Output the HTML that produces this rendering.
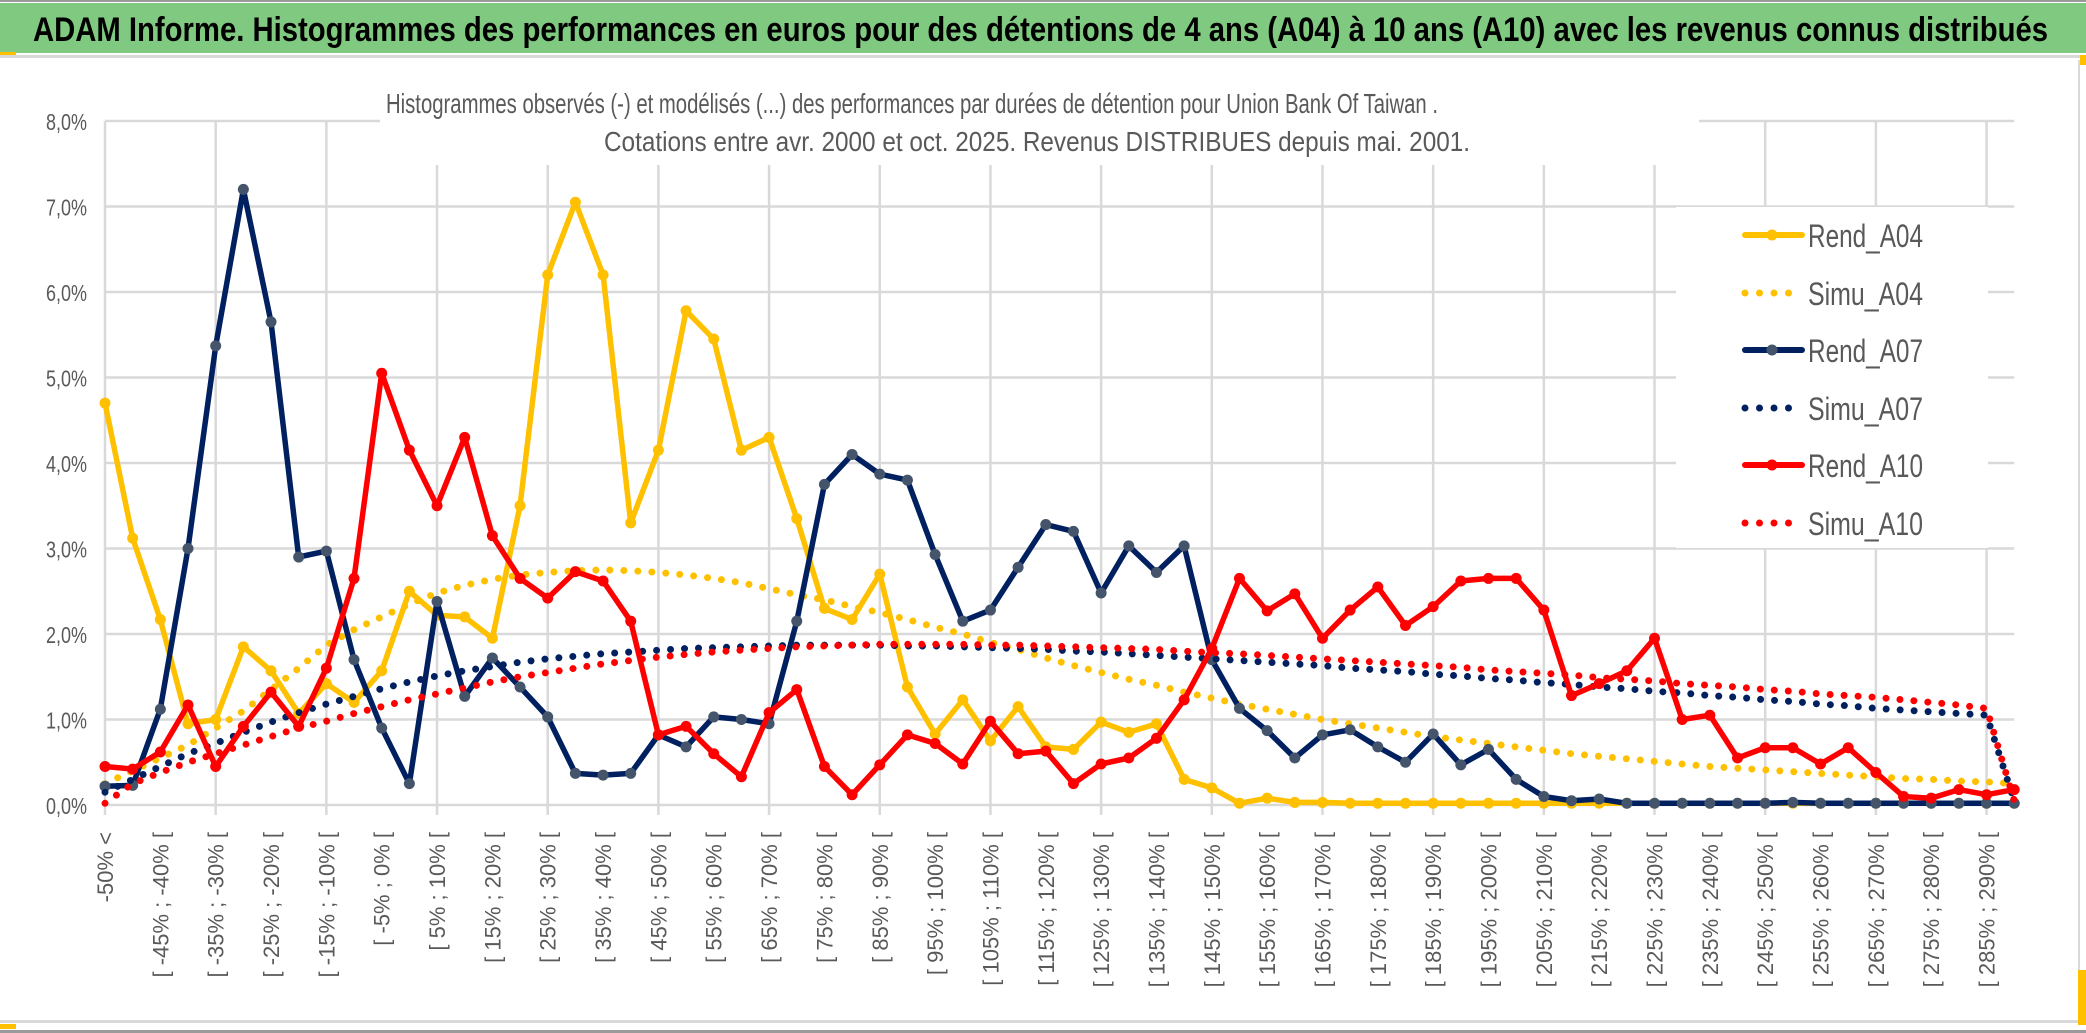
<!DOCTYPE html>
<html><head><meta charset="utf-8">
<style>
html,body{margin:0;padding:0;background:#fff;}
svg{display:block;}
</style></head>
<body>
<svg id="chart" width="2086" height="1033" viewBox="0 0 2086 1033" xmlns="http://www.w3.org/2000/svg">
  <rect x="0" y="0" width="2086" height="1033" fill="#fff"/>
  <rect x="0" y="0" width="2086" height="2" fill="#9a9a9a"/>
  <rect x="0" y="3" width="2086" height="50" fill="#80C980"/>
  <rect x="0" y="52" width="16" height="4" fill="#FFC000"/>
  <rect x="0" y="55" width="2086" height="3" fill="#d9d9d9"/>
  <text x="33" y="41" font-family="'Liberation Sans Narrow','Liberation Sans',sans-serif" font-weight="bold" font-size="34" fill="#000" textLength="2015" lengthAdjust="spacingAndGlyphs">ADAM Informe. Histogrammes des performances en euros pour des détentions de 4 ans (A04) à 10 ans (A10) avec les revenus connus distribués</text>
  <rect x="0" y="1020" width="2086" height="3" fill="#d9d9d9"/>
  <rect x="0" y="1030" width="2086" height="3" fill="#9a9a9a"/>
  <rect x="0" y="1024" width="16" height="5" fill="#FFC000"/>
  <rect x="2078" y="60" width="2" height="960" fill="#d9d9d9"/>
  <rect x="2078" y="970" width="8" height="55" fill="#FFC000"/>
  <rect x="2080" y="55" width="6" height="10" fill="#FFC000"/>
  <g id="grid"></g>
  <g id="yaxis"></g>
  <g id="xaxis"></g>
  <rect x="380" y="66" width="1319" height="99" fill="#fff"/>
  <text x="912" y="113" text-anchor="middle" font-family="'Liberation Sans Narrow','Liberation Sans',sans-serif" font-size="28" fill="#595959" textLength="1052" lengthAdjust="spacingAndGlyphs">Histogrammes observés (-) et modélisés (...) des performances par durées de détention pour Union Bank Of Taiwan .</text>
  <text x="1037" y="151" text-anchor="middle" font-family="'Liberation Sans Narrow','Liberation Sans',sans-serif" font-size="28" fill="#595959" textLength="866" lengthAdjust="spacingAndGlyphs">Cotations entre avr. 2000 et oct. 2025. Revenus DISTRIBUES depuis mai. 2001.</text>
  <g id="series"></g>
  <rect x="1676" y="207" width="312" height="341" fill="#fff"/>
  <g id="legend"></g>
</svg>
<script>
const NS = "http://www.w3.org/2000/svg";
const categoriesStart = -50;
const categoryStep = 5;
const categoryCount = 70;
const yTicks = [0,1,2,3,4,5,6,7,8];
const yTickLabels = ["0,0%","1,0%","2,0%","3,0%","4,0%","5,0%","6,0%","7,0%","8,0%"];
const rendA04 = [4.7,3.12,2.17,0.95,1.0,1.85,1.57,1.07,1.42,1.2,1.57,2.5,2.22,2.2,1.95,3.5,6.2,7.05,6.2,3.3,4.15,5.78,5.45,4.15,4.3,3.35,2.3,2.17,2.7,1.38,0.83,1.23,0.75,1.15,0.68,0.65,0.97,0.85,0.95,0.3,0.2,0.02,0.08,0.03,0.03,0.02,0.02,0.02,0.02,0.02,0.02,0.02,0.02,0.02,0.02,0.02,0.02,0.02,0.02,0.02,0.02,0.02,0.02,0.02,0.02,0.02,0.02,0.02,0.02,0.02];
const simuA04 = [0.25,0.4,0.55,0.7,0.9,1.1,1.35,1.6,1.87,2.05,2.2,2.35,2.48,2.57,2.64,2.69,2.72,2.74,2.75,2.74,2.72,2.69,2.65,2.6,2.53,2.46,2.4,2.32,2.25,2.17,2.08,2.0,1.9,1.82,1.72,1.63,1.55,1.47,1.4,1.32,1.25,1.18,1.12,1.06,1.0,0.95,0.9,0.85,0.8,0.76,0.72,0.68,0.64,0.6,0.57,0.54,0.51,0.48,0.45,0.43,0.41,0.39,0.37,0.35,0.33,0.31,0.3,0.28,0.27,0.25];
const rendA07 = [0.22,0.23,1.12,3.0,5.37,7.2,5.65,2.9,2.97,1.7,0.9,0.25,2.38,1.27,1.72,1.38,1.03,0.37,0.35,0.37,0.82,0.68,1.03,1.0,0.95,2.15,3.75,4.1,3.87,3.8,2.93,2.15,2.28,2.78,3.28,3.2,2.48,3.03,2.72,3.03,1.7,1.13,0.87,0.55,0.82,0.88,0.68,0.5,0.83,0.47,0.65,0.3,0.1,0.05,0.07,0.02,0.02,0.02,0.02,0.02,0.02,0.03,0.02,0.02,0.02,0.02,0.02,0.02,0.02,0.02];
const simuA07 = [0.15,0.3,0.45,0.6,0.72,0.85,0.97,1.08,1.18,1.27,1.36,1.44,1.51,1.57,1.62,1.67,1.71,1.74,1.77,1.79,1.81,1.83,1.84,1.85,1.86,1.87,1.87,1.87,1.87,1.86,1.86,1.85,1.84,1.83,1.82,1.8,1.79,1.77,1.75,1.73,1.71,1.69,1.67,1.65,1.63,1.6,1.58,1.56,1.53,1.51,1.48,1.46,1.43,1.41,1.38,1.36,1.33,1.31,1.28,1.26,1.23,1.21,1.18,1.16,1.13,1.11,1.09,1.07,1.05,0.05];
const rendA10 = [0.45,0.42,0.62,1.17,0.45,0.92,1.32,0.92,1.6,2.65,5.05,4.15,3.5,4.3,3.15,2.65,2.42,2.73,2.62,2.15,0.82,0.92,0.6,0.33,1.08,1.35,0.45,0.12,0.47,0.82,0.72,0.48,0.98,0.6,0.63,0.25,0.48,0.55,0.78,1.23,1.83,2.65,2.27,2.47,1.95,2.28,2.55,2.1,2.32,2.62,2.65,2.65,2.28,1.28,1.42,1.57,1.95,1.0,1.05,0.55,0.67,0.67,0.48,0.67,0.38,0.1,0.08,0.18,0.12,0.18];
const simuA10 = [0.02,0.25,0.38,0.5,0.6,0.7,0.8,0.9,0.98,1.07,1.15,1.23,1.3,1.37,1.44,1.5,1.55,1.6,1.65,1.69,1.73,1.76,1.79,1.81,1.83,1.85,1.86,1.87,1.88,1.88,1.88,1.88,1.87,1.87,1.86,1.85,1.84,1.83,1.82,1.8,1.78,1.77,1.75,1.73,1.71,1.69,1.67,1.65,1.63,1.61,1.58,1.56,1.54,1.52,1.49,1.47,1.45,1.42,1.4,1.38,1.35,1.33,1.3,1.28,1.26,1.23,1.2,1.17,1.13,0.05];

const X0 = 105, XSTEP = 27.67, Y0 = 805, YPER = 85.5;
function xPos(i){ return X0 + i*XSTEP; }
function yPos(v){ return Y0 - v*YPER; }
function mk(tag, attrs, parent){
  const e = document.createElementNS(NS, tag);
  for (const k in attrs) e.setAttribute(k, attrs[k]);
  parent.appendChild(e);
  return e;
}
function catLabel(i){
  if (i === 0) return "-50% <";
  const lo = categoriesStart + (i-1)*categoryStep;
  return "[ " + lo + "% ; " + (lo+categoryStep) + "% [";
}
const grid = document.getElementById('grid');
const xRight = xPos(categoryCount-1);
yTicks.forEach((t) => {
  const l = mk('line', {x1:X0, x2:xRight, y1:yPos(t), y2:yPos(t), stroke:'#d9d9d9', 'stroke-width':2.5}, grid);
  
  
});
for (let i = 0; i < categoryCount; i += 4) {
  const l = mk('line', {x1:xPos(i), x2:xPos(i), y1:yPos(8), y2:Y0+10, stroke:'#d9d9d9', 'stroke-width':2.5}, grid);
  
  
}
const yaxis = document.getElementById('yaxis');
yTicks.forEach((t, k) => {
  const tx = mk('text', {x:87, y:yPos(t)+9, 'text-anchor':'end', 'font-family':"'Liberation Sans Narrow','Liberation Sans',sans-serif", 'font-size':23, fill:'#595959', textLength:41, lengthAdjust:'spacingAndGlyphs'}, yaxis);
  tx.textContent = yTickLabels[k];
  
  
});
const xaxis = document.getElementById('xaxis');
for (let i = 0; i < categoryCount; i += 2) {
  const x = xPos(i) + 8;
  const tx = mk('text', {x:x, y:832, transform:'rotate(-90 '+x+' 832)', 'text-anchor':'end', 'font-family':"'Liberation Sans',sans-serif", 'font-size':22, fill:'#595959'}, xaxis);
  tx.textContent = catLabel(i);
  
  
}
const series = document.getElementById('series');
function pts(arr){ return arr.map((v,i)=>xPos(i).toFixed(1)+','+yPos(v).toFixed(1)).join(' '); }
function solid(arr, color, mcolor, name){
  const g = mk('g', {}, series);
  
  
  const p = mk('polyline', {points:pts(arr), fill:'none', stroke:color, 'stroke-width':5.5, 'stroke-linejoin':'round'}, g);
  
  
  arr.forEach((v,i)=>{
    const c = mk('circle', {cx:xPos(i), cy:yPos(v), r:5.5, fill:mcolor}, g);
    
    
  });
}
function dotted(arr, color, name){
  const p = mk('polyline', {points:pts(arr), fill:'none', stroke:color, 'stroke-width':7, 'stroke-linecap':'round', 'stroke-dasharray':'0 14'}, series);
  
  
}
solid(rendA04, '#FFC000', '#FFC000', 'rend-a04');
dotted(simuA04, '#FFC000', 'simu-a04');
solid(rendA07, '#002060', '#44546A', 'rend-a07');
dotted(simuA07, '#002060', 'simu-a07');
solid(rendA10, '#FF0000', '#FF0000', 'rend-a10');
dotted(simuA10, '#FF0000', 'simu-a10');

const legend = document.getElementById('legend');
const legendItems = [
  ['Rend_A04','#FFC000','#FFC000',false],
  ['Simu_A04','#FFC000',null,true],
  ['Rend_A07','#002060','#44546A',false],
  ['Simu_A07','#002060',null,true],
  ['Rend_A10','#FF0000','#FF0000',false],
  ['Simu_A10','#FF0000',null,true]
];
const legendYs = [235,293,350,408,465,523];
legendItems.forEach((it, k) => {
  const y = legendYs[k];
  const g = mk('g', {}, legend);
  
  
  if (it[3]) {
    mk('line', {x1:1745, x2:1800, y1:y, y2:y, stroke:it[1], 'stroke-width':7, 'stroke-linecap':'round', 'stroke-dasharray':'0 14.5'}, g);
  } else {
    mk('line', {x1:1745, x2:1802, y1:y, y2:y, stroke:it[1], 'stroke-width':6, 'stroke-linecap':'round'}, g);
    mk('circle', {cx:1772, cy:y, r:5.5, fill:it[2]}, g);
  }
  const t = mk('text', {x:1808, y:y+12, 'font-family':"'Liberation Sans Narrow','Liberation Sans',sans-serif", 'font-size':32, fill:'#595959', textLength:115, lengthAdjust:'spacingAndGlyphs'}, g);
  t.textContent = it[0];
});
</script>
</body></html>
